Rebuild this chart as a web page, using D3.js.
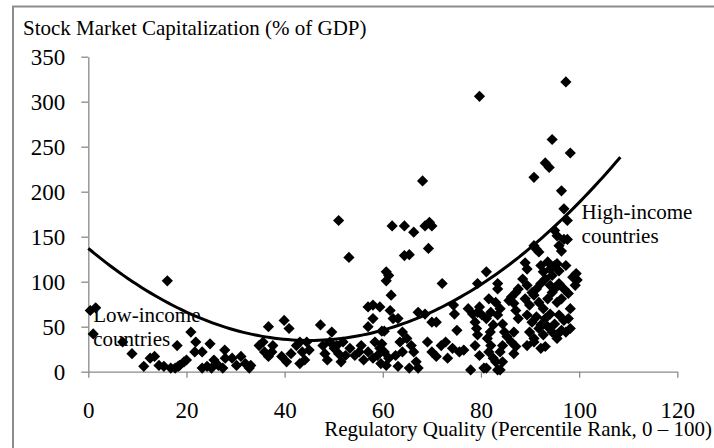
<!DOCTYPE html>
<html>
<head>
<meta charset="utf-8">
<script src="https://cdn.jsdelivr.net/npm/d3@7/dist/d3.min.js"></script>
<style>
  html, body { margin: 0; padding: 0; background: #fff; }
  svg { display: block; }
  text { font-family: "Liberation Serif", "Times New Roman", serif; fill: #000; }
</style>
</head>
<body>
<svg id="chart" width="714" height="448"></svg>
<script>
// ---- Data ----
const xTicks = [0, 20, 40, 60, 80, 100, 120];
const yTicks = [0, 50, 100, 150, 200, 250, 300, 350];
const yTitle = "Stock Market Capitalization (% of GDP)";
const xTitle = "Regulatory Quality (Percentile Rank, 0 \u2013 100)";
const annotations = [
  { x: 1, y: 55, lines: ["Low-income", "countries"] },
  { x: 100.5, y: 170, lines: ["High-income", "countries"] }
];
// quadratic trend line coefficients: c0 + c1*x + c2*x^2, drawn over [0, 108.4]
const trendCoef = [137, -4.55, 0.0506];
const trendRange = [0, 108.4];

// regulatory quality (x)
const regQuality = [
 0.4,1.5,1.0,7.0,8.9,16.1,
 11.3,12.6,13.5,14.4,15.4,16.8,17.7,18.3,18.6,
 18.1,20.9,20.0,19.5,21.9,21.7,23.2,24.8,
 23.2,24.2,25.1,25.6,26.5,27.4,27.9,27.8,
 29.3,30.2,31.1,32.0,32.8,33.1,
 36.7,34.8,35.6,35.9,36.7,37.6,37.4,
 39.9,40.9,
 39.4,40.4,41.3,42.4,43.1,43.6,43.1,44.1,44.5,45.0,
 47.3,49.6,
 47.8,48.2,48.7,49.2,50.1,50.6,51.0,51.5,51.9,52.4,53.3,54.3,55.2,55.6,56.1,57.0,58.0,58.4,58.9,59.4,59.6,59.8,60.3,60.7,61.2,
 51.0,53.1,
 57.0,58.0,59.4,
 57.0,58.0,59.8,60.3,
 60.7,61.2,60.7,61.7,
 61.5,62.1,63.1,
 61.9,64.4,66.3,64.4,65.4,68.1,
 68.6,69.5,70.0,69.3,
 64.0,64.9,65.8,66.3,66.8,67.2,65.4,64.0,63.5,62.6,63.1,
 67.2,68.6,70.0,70.9,
 69.1,70.0,70.9,71.9,
 72.1,72.8,73.2,74.2,74.4,74.6,75.1,75.6,76.5,
 79.7,79.3,
 77.4,78.3,79.3,79.7,80.2,78.8,79.1,79.3,78.8,79.7,
 77.9,80.6,81.1,83.4,83.9,
 81.1,
 81.6,82.0,81.1,82.5,81.9,81.3,82.0,81.6,82.5,83.0,
 83.4,83.4,
 83.0,83.9,83.4,84.4,
 84.8,85.3,84.4,83.9,84.4,
 85.7,86.2,86.7,87.1,87.6,87.1,87.6,86.7,86.2,87.1,86.7,
 89.0,89.4,90.8,91.3,91.8,
 90.8,93.1,93.9,94.5,97.3,98.2,96.4,96.9,97.6,
 95.0,95.5,95.9,96.4,96.9,97.6,
 92.2,92.7,93.6,94.1,94.5,95.0,95.5,95.9,97.3,
 88.5,89.4,90.4,91.3,92.2,93.1,94.1,95.0,95.9,96.9,98.7,99.4,
 89.0,89.9,90.8,91.8,92.7,93.6,94.5,95.5,96.4,97.8,
 89.4,90.4,91.3,92.2,93.1,94.1,95.0,95.9,96.9,97.8,98.2,
 89.9,90.8,91.8,92.7,93.6,94.5,95.5,96.4,97.3,98.2,
 89.4,90.8,92.2,93.1,95.5,
 99.2,99.6
];
// stock market capitalization, % of GDP (y)
const mktCap = [
 68,71,42,33,20,101,
 6,15,17,7,6,4,4,6,7,
 29,44,13,11,33,22,22,31,
 4,6,4,13,7,4,15,24,
 15,7,17,9,4,7,
 50,29,33,22,17,29,22,
 57,48,
 17,11,20,29,33,22,9,13,33,24,
 52,44,
 29,20,13,33,26,29,20,11,33,18,26,18,22,29,13,22,15,33,18,26,9,31,22,7,15,
 168,127,
 72,74,72,
 50,59,45,45,
 111,107,101,85,
 68,59,59,
 162,162,155,129,130,212,
 162,166,162,137,
 44,37,29,22,11,4,4,22,33,18,6,
 66,64,55,55,
 33,22,17,29,
 98,33,15,26,74,64,46,22,24,
 306,98,
 70,64,66,72,63,55,48,41,29,18,
 2,4,4,2,2,
 111,
 81,66,59,52,44,37,29,22,15,11,
 98,92,
 77,70,63,53,
 44,39,29,22,11,
 79,83,76,88,92,68,59,44,33,28,20,
 121,114,140,136,133,
 216,232,227,258,322,243,201,181,168,
 157,151,140,134,147,147,
 118,111,122,114,107,118,120,112,118,
 103,96,88,92,98,103,96,92,98,92,105,109,
 81,74,85,77,70,81,88,77,81,87,
 63,55,61,52,59,64,53,63,57,59,70,
 44,37,48,41,50,44,41,46,44,48,
 29,33,26,28,37,
 96,102
];

// ---- Drawing ----
const svg = d3.select("#chart");
const x = d3.scaleLinear().domain([0, 120]).range([88.3, 677.3]);
const y = d3.scaleLinear().domain([0, 350]).range([371.7, 56.7]);
const axisColor = "#8a8a8a";

// outer frame
svg.append("rect")
  .attr("x", 13).attr("y", 6.5)
  .attr("width", 720).attr("height", 460)
  .attr("fill", "none").attr("stroke", "#8c8c8c").attr("stroke-width", 2);

// y title
svg.append("text")
  .attr("x", 23).attr("y", 35)
  .style("font-size", "21px")
  .text(yTitle);

// axes
const gx = svg.append("g").attr("transform", `translate(0,${y(0)})`)
  .call(d3.axisBottom(x).tickValues(xTicks).tickSize(6).tickSizeOuter(0).tickFormat(d3.format("d")));
const gy = svg.append("g").attr("transform", `translate(${x(0)},0)`)
  .call(d3.axisLeft(y).tickValues(yTicks).tickSize(7).tickSizeOuter(0).tickFormat(d3.format("d")));
[gx, gy].forEach(g => {
  g.select(".domain").attr("stroke", axisColor).attr("stroke-width", 1.3);
  g.selectAll(".tick line").attr("stroke", axisColor).attr("stroke-width", 1.3);
  g.selectAll(".tick text")
    .style("font-family", '"Liberation Serif", "Times New Roman", serif')
    .style("font-size", "23px").attr("fill", "#000");
});
gx.selectAll(".tick text").attr("y", 46).attr("dy", 0);
gy.selectAll(".tick text").attr("x", -23).attr("dy", "0.33em");

// x title
svg.append("text")
  .attr("x", 712).attr("y", 436)
  .attr("text-anchor", "end")
  .style("font-size", "21px")
  .text(xTitle);

// points
const pts = regQuality.map((v, i) => ({ rq: v, mc: mktCap[i] }));
const r = 5.6;
svg.append("g").selectAll("path").data(pts).join("path")
  .attr("transform", d => `translate(${x(d.rq)},${y(d.mc)})`)
  .attr("d", `M0,${-r}L${r},0L0,${r}L${-r},0Z`)
  .attr("fill", "#000");

// trend line
const trendXs = d3.range(trendRange[0], trendRange[1] + 0.001, (trendRange[1] - trendRange[0]) / 120);
const trendPts = trendXs.map(t => [t, trendCoef[0] + trendCoef[1] * t + trendCoef[2] * t * t]);
svg.append("path")
  .datum(trendPts)
  .attr("fill", "none").attr("stroke", "#000").attr("stroke-width", 3)
  .attr("d", d3.line().x(d => x(d[0])).y(d => y(d[1])).curve(d3.curveBasis));

// annotations
annotations.forEach(a => {
  const t = svg.append("text")
    .attr("x", x(a.x)).attr("y", y(a.y))
    .style("font-size", "21px");
  a.lines.forEach((ln, i) => {
    t.append("tspan").attr("x", x(a.x)).attr("dy", i === 0 ? 0 : 24).text(ln);
  });
});
</script>
</body>
</html>
